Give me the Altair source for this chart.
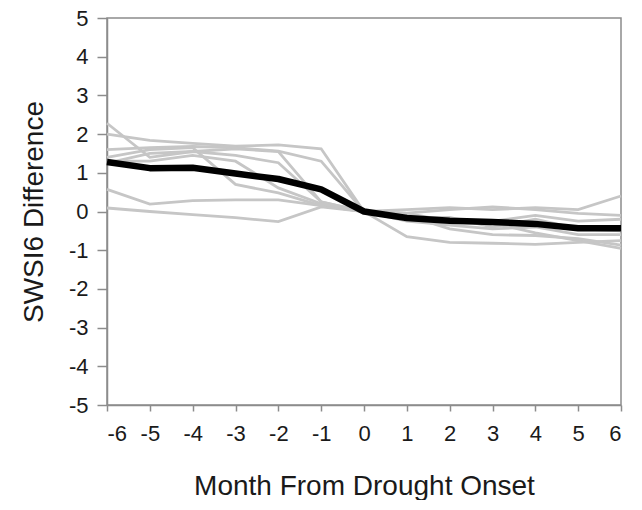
import altair as alt
import pandas as pd

months = [-6, -5, -4, -3, -2, -1, 0, 1, 2, 3, 4, 5, 6]

gray_series = {
    "G1": [2.28, 1.40, 1.55, 1.62, 1.55, 0.25, 0, -0.05, -0.25, -0.30, -0.55, -0.75, -0.95],
    "G2": [2.00, 1.84, 1.76, 1.69, 1.72, 1.62, 0, 0.05, 0.10, 0.05, 0.10, 0.05, 0.40],
    "G3": [1.60, 1.65, 1.68, 1.65, 1.56, 1.30, 0, -0.04, 0.05, 0.12, 0.05, -0.05, -0.10],
    "G4": [1.40, 1.60, 1.65, 0.70, 0.48, 0.15, 0, -0.65, -0.80, -0.82, -0.85, -0.80, -0.75],
    "G5": [1.25, 1.50, 1.55, 1.45, 1.26, 0.25, 0, -0.25, -0.35, -0.45, -0.40, -0.60, -0.60],
    "G6": [0.57, 0.19, 0.28, 0.30, 0.30, 0.15, 0, -0.10, -0.45, -0.60, -0.62, -0.70, -0.87],
    "G7": [0.09, 0.00, -0.08, -0.16, -0.26, 0.12, 0, -0.20, -0.25, -0.25, -0.10, -0.25, -0.20],
    "G8": [1.30, 1.30, 1.45, 1.30, 0.61, 0.20, 0, -0.15, -0.15, -0.40, -0.20, -0.45, -0.50],
}

mean_series = [1.28, 1.12, 1.13, 0.98, 0.84, 0.57, 0, -0.17, -0.24, -0.27, -0.32, -0.43, -0.43]

y_ticks = [-5, -4, -3, -2, -1, 0, 1, 2, 3, 4, 5]

rows = []
for name, vals in gray_series.items():
    for m, v in zip(months, vals):
        rows.append({"month": m, "value": v, "series": name})
gray_df = pd.DataFrame(rows)
mean_df = pd.DataFrame({"month": months, "value": mean_series})

axis_common = dict(
    grid=False,
    domainColor="#8c8c8c",
    domainWidth=1.5,
    tickColor="#8c8c8c",
    tickWidth=1.5,
    labelFont="Liberation Sans",
    labelFontSize=22,
    labelColor="#1a1a1a",
    titleFont="Liberation Sans",
    titleFontSize=28,
    titleFontWeight="normal",
    titleColor="#1a1a1a",
    labelExpr="toString(datum.value)",
)

x_enc = alt.X(
    "month:Q",
    scale=alt.Scale(domain=[-6, 6], nice=False),
    axis=alt.Axis(
        values=months,
        title="Month From Drought Onset",
        tickSize=6,
        labelPadding=12,
        titlePadding=28,
        **axis_common,
    ),
)
y_enc = alt.Y(
    "value:Q",
    scale=alt.Scale(domain=[-5, 5], nice=False),
    axis=alt.Axis(
        values=y_ticks,
        title="SWSI6 Difference",
        tickSize=10,
        labelPadding=9,
        titlePadding=20,
        **axis_common,
    ),
)

gray = alt.Chart(gray_df).mark_line(color="#c6c6c6", strokeWidth=2.8).encode(
    x=x_enc, y=y_enc, detail="series:N"
)
mean = alt.Chart(mean_df).mark_line(color="#000000", strokeWidth=6.5, strokeJoin="round").encode(
    x=x_enc, y=y_enc
)

chart = (
    alt.layer(gray, mean)
    .properties(
        width=514,
        height=387,
        autosize=alt.AutoSizeParams(type="none"),
        padding={"left": 99, "top": 10, "right": 10, "bottom": 95},
    )
    .configure_view(stroke="#8c8c8c", strokeWidth=1.5)
)

chart.save("out.html", embed_options={"renderer": "svg", "actions": False})
